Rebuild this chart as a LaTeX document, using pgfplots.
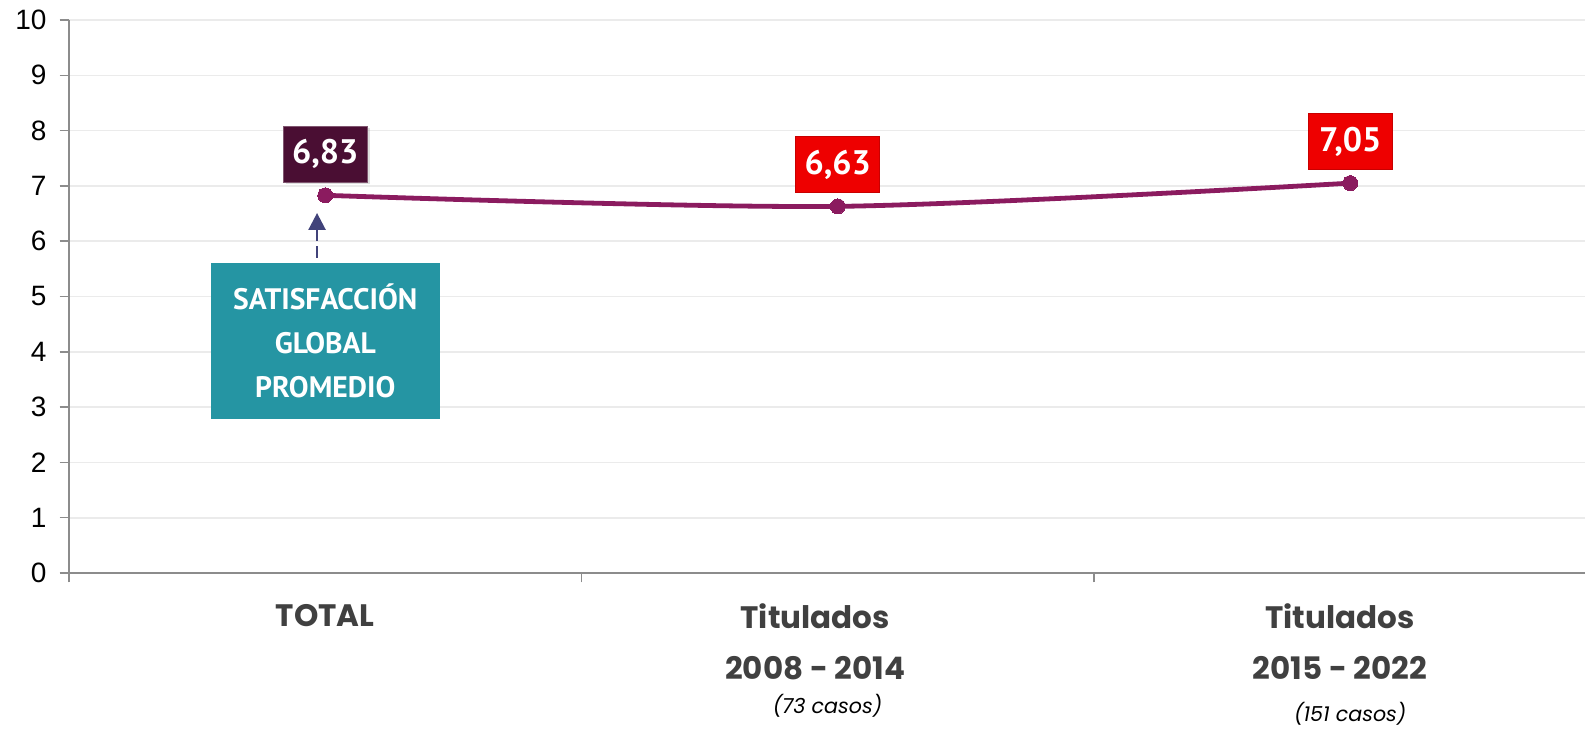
\documentclass[border=0pt]{standalone}
\usepackage{pgfplots}
\pgfplotsset{compat=1.18}
\usepackage{fontspec}
\setmainfont{Liberation Sans}
\newfontfamily\catfont{Poppins}
\newfontfamily\boxfont{PT Sans}
\usetikzlibrary{calc,shadows,arrows.meta}
\definecolor{linec}{HTML}{8B1B5F}
\definecolor{darkbox}{HTML}{4A0E33}
\definecolor{redbox}{HTML}{EE0000}
\definecolor{redborder}{HTML}{C80000}
\definecolor{tealc}{HTML}{2595A3}
\definecolor{arrowc}{HTML}{41437A}
\definecolor{axisgray}{HTML}{8C8C8C}
\definecolor{gridgray}{HTML}{EBEBEB}
\definecolor{labgray}{HTML}{404040}
\begin{document}
\begin{tikzpicture}
\begin{axis}[name=ax, scale only axis, width=758pt, height=276.5pt,
  clip=false,
  xmin=-0.5, xmax=2.458, ymin=0, ymax=10,
  ytick={0,1,...,10},
  xtick={-0.5,0.5,1.5}, xticklabels={},
  extra x ticks={0,0.956,1.98},
  extra x tick labels={{TOTAL},{Titulados\\2008 - 2014},{Titulados\\2015 - 2022}},
  extra x tick style={major tick length=0pt},
  axis x line*=bottom, axis y line*=left,
  axis line style={draw=axisgray, line width=0.75pt},
  tick align=outside,
  major tick length=4.7pt,
  tick style={draw=axisgray, line width=0.75pt},
  ymajorgrids,
  major grid style={draw=gridgray, line width=0.8pt},
  /pgf/number format/assume math mode=true,
  yticklabel style={font=\fontsize{14}{14}\selectfont, text=black, xshift=-3pt},
  xticklabel style={font=\catfont\bfseries\fontsize{15.5}{25.5}\selectfont, text=labgray, align=center, anchor=north, yshift=-12pt},
]
\addplot[linec, line width=2.4pt, smooth, tension=0.5, mark=*, mark size=3.75pt,
  mark options={fill=linec, draw=linec, line width=0pt, solid}]
  coordinates {(0,6.83) (1,6.63) (2,7.05)};

\node[fill=darkbox, draw=darkbox!70!white, line width=0.4pt, drop shadow={opacity=0.25, shadow xshift=1.2pt, shadow yshift=-1.2pt},
  anchor=south, yshift=6.5pt, minimum width=42pt, minimum height=28pt, inner sep=0pt,
  text=white, font=\boxfont\bfseries\fontsize{17}{17}\selectfont] at (axis cs:0,6.83) {6,83};
\node[fill=redbox, draw=redborder, line width=0.5pt,
  anchor=south, yshift=6.5pt, minimum width=42pt, minimum height=28pt, inner sep=0pt,
  text=white, font=\boxfont\bfseries\fontsize{17}{17}\selectfont] at (axis cs:1,6.63) {6,63};
\node[fill=redbox, draw=redborder, line width=0.5pt,
  anchor=south, yshift=6.5pt, minimum width=42pt, minimum height=28pt, inner sep=0pt,
  text=white, font=\boxfont\bfseries\fontsize{17}{17}\selectfont] at (axis cs:2,7.05) {7,05};

\node[fill=tealc, minimum width=114.5pt, minimum height=78pt, inner sep=0pt, align=center,
  text=white, font=\boxfont\bfseries\fontsize{14.8}{22}\selectfont] at (axis cs:0,4.195) {SATISFACCIÓN\\GLOBAL\\PROMEDIO};
\draw[arrowc, line width=1.3pt, dash pattern=on 6pt off 2.5pt, -{Triangle[length=8.5pt,width=8.5pt]}]
  (axis cs:-0.016,5.70) -- (axis cs:-0.016,6.51);

\node[font=\catfont\itshape\fontsize{10.3}{10.3}\selectfont, text=black] at (axis cs:0.98,0) [yshift=-66.5pt] {(73 casos)};
\node[font=\catfont\itshape\fontsize{10.3}{10.3}\selectfont, text=black] at (axis cs:2.0,0) [yshift=-70.5pt] {(151 casos)};
\end{axis}
\pgfresetboundingbox
\path[use as bounding box] ($(ax.south west)+(-34.5pt,-78pt)$) rectangle ($(ax.north east)+(0pt,10pt)$);
\end{tikzpicture}
\end{document}
